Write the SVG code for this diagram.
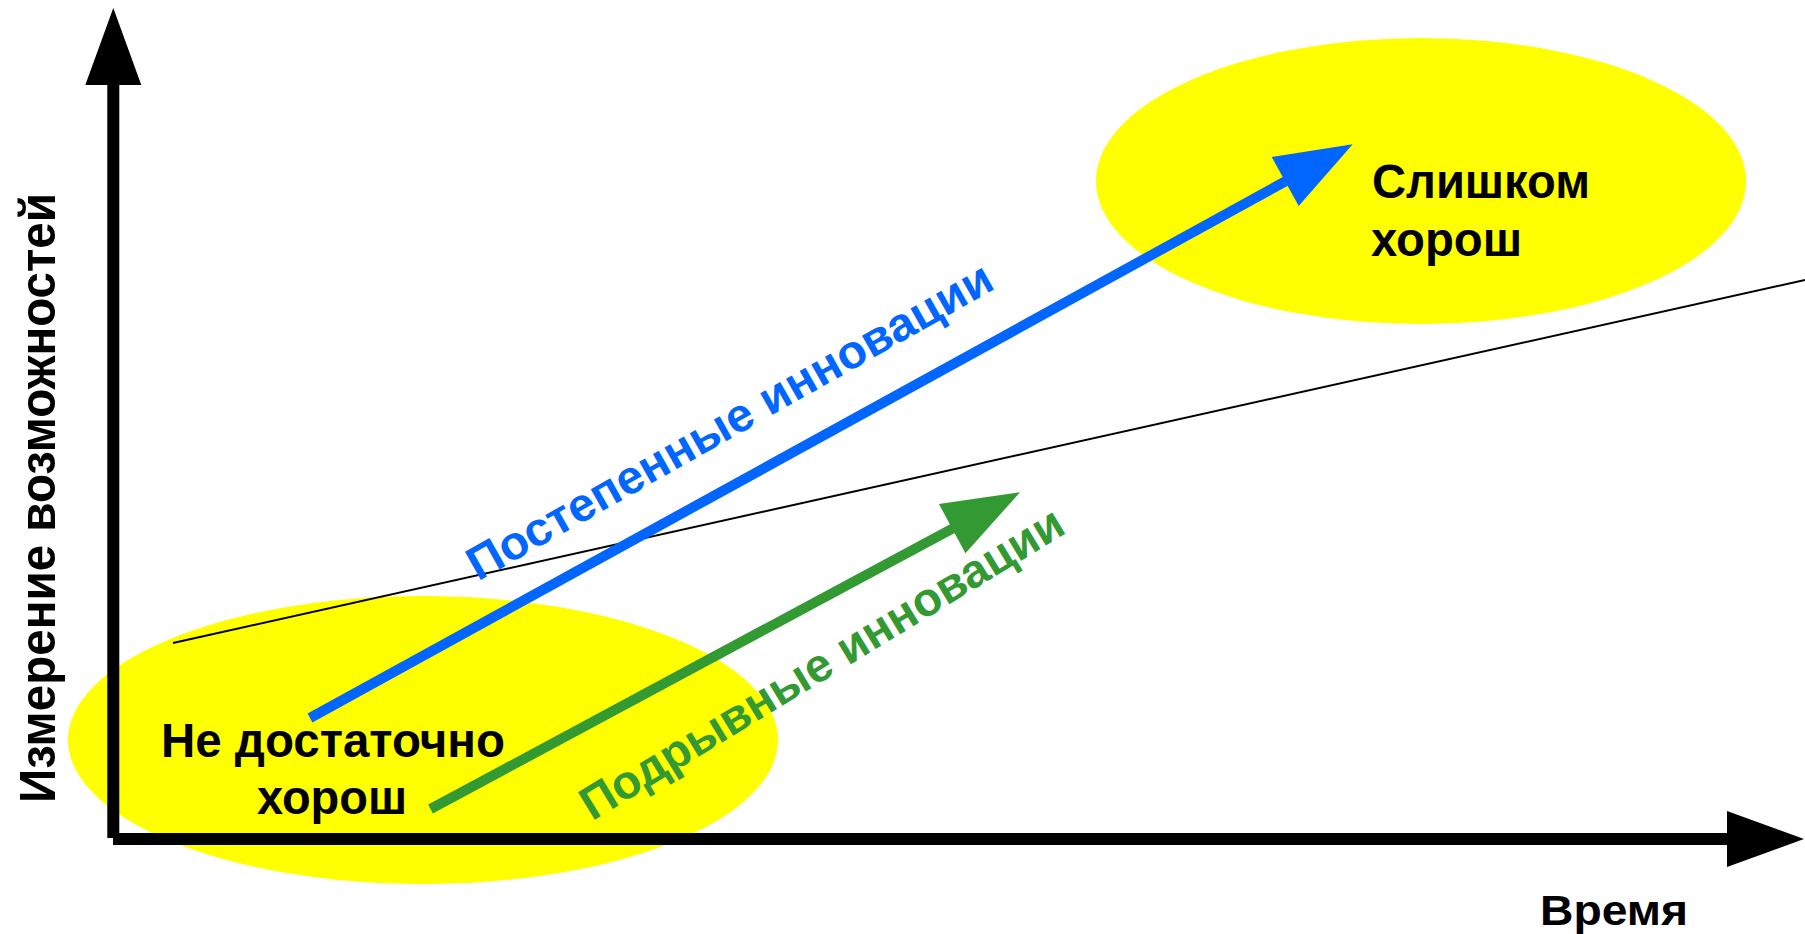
<svg xmlns="http://www.w3.org/2000/svg" width="1805" height="934" viewBox="0 0 1805 934">
  <style>
    .lbl { font-family: "Liberation Sans", Arial, sans-serif; font-weight: bold; }
    .blk { fill: #000000; font-size: 48px; }
    .zone { fill: #FFFF00; stroke: none; }
    .axis { stroke: #000000; stroke-width: 12; fill: none; }
    .trend { stroke: #000000; stroke-width: 2; fill: none; }
    .blue { stroke: #0066FF; stroke-width: 10; fill: none; }
    .green { stroke: #339933; stroke-width: 10; fill: none; }
  </style>
  <defs>
    <marker id="headBlack" markerUnits="userSpaceOnUse" markerWidth="90" markerHeight="70" refX="5" refY="0" orient="auto" overflow="visible">
      <path d="M0,-28 L77,0 L0,28 Z" fill="#000000"/>
    </marker>
    <marker id="headBlue" markerUnits="userSpaceOnUse" markerWidth="90" markerHeight="70" refX="5" refY="0" orient="auto" overflow="visible">
      <path d="M0,-28 L77,0 L0,28 Z" fill="#0066FF"/>
    </marker>
    <marker id="headGreen" markerUnits="userSpaceOnUse" markerWidth="90" markerHeight="70" refX="5" refY="0" orient="auto" overflow="visible">
      <path d="M0,-28 L77,0 L0,28 Z" fill="#339933"/>
    </marker>
  </defs>
  <rect width="1805" height="934" fill="#FFFFFF"/>

  <g id="zone-not-good-enough">
    <ellipse class="zone" cx="423" cy="740" rx="355" ry="144"/>
  </g>
  <g id="zone-too-good">
    <ellipse class="zone" cx="1421" cy="181" rx="325" ry="143"/>
  </g>

  <g id="connectors">
    <line id="trend-line" class="trend" x1="173" y1="643" x2="1805" y2="280"/>
    <line id="axis-y" class="axis" x1="113.3" y1="838" x2="113.3" y2="80" marker-end="url(#headBlack)"/>
    <line id="axis-x" class="axis" x1="113" y1="839" x2="1732" y2="839" marker-end="url(#headBlack)"/>
    <line id="arrow-incremental" class="blue" x1="310" y1="718" x2="1289.6" y2="179.0" marker-end="url(#headBlue)"/>
    <line id="arrow-disruptive" class="green" x1="430.5" y1="809" x2="956.6" y2="526.3" marker-end="url(#headGreen)"/>
  </g>

  <g id="label-not-good-enough">
    <text class="lbl blk" x="333" y="757" text-anchor="middle" textLength="344" lengthAdjust="spacingAndGlyphs">Не достаточно</text>
    <text class="lbl blk" x="332" y="814" text-anchor="middle" textLength="150" lengthAdjust="spacingAndGlyphs">хорош</text>
  </g>
  <g id="label-too-good">
    <text class="lbl blk" x="1372" y="198" textLength="218" lengthAdjust="spacingAndGlyphs">Слишком</text>
    <text class="lbl blk" x="1371" y="256" textLength="151" lengthAdjust="spacingAndGlyphs">хорош</text>
  </g>
  <g id="label-incremental">
    <text class="lbl" fill="#0066FF" font-size="47" transform="translate(478,581.5) rotate(-29.5)" textLength="596" lengthAdjust="spacingAndGlyphs">Постепенные инновации</text>
  </g>
  <g id="label-disruptive">
    <text class="lbl" fill="#339933" font-size="47" transform="translate(592,821.5) rotate(-31.3)" textLength="557" lengthAdjust="spacingAndGlyphs">Подрывные инновации</text>
  </g>
  <g id="label-y-axis">
    <text class="lbl" fill="#000000" font-size="50" transform="translate(55,803) rotate(-90)" textLength="610" lengthAdjust="spacingAndGlyphs">Измерение возможностей</text>
  </g>
  <g id="label-x-axis">
    <text class="lbl" fill="#000000" font-size="43" x="1540" y="925" textLength="148" lengthAdjust="spacingAndGlyphs">Время</text>
  </g>
</svg>
